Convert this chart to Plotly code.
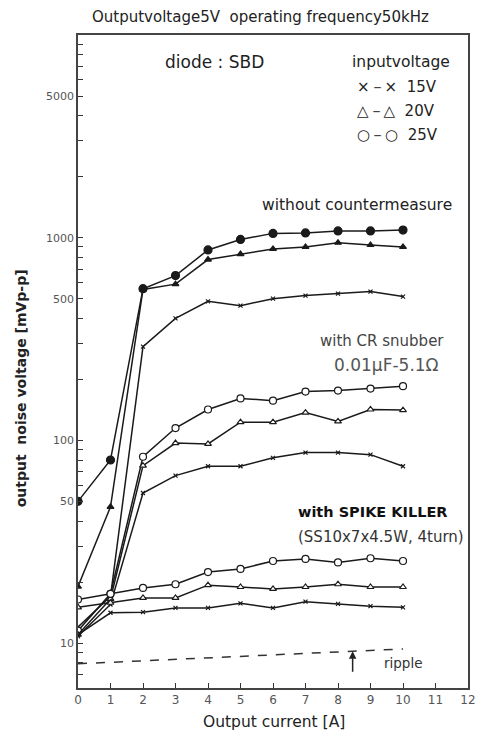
import plotly.graph_objects as go
import math

# ---- data ----
current = [0, 1, 2, 3, 4, 5, 6, 7, 8, 9, 10]

# without countermeasure
wo_25v = [50, 80, 560, 650, 870, 980, 1050, 1055, 1080, 1080, 1090]
wo_20v = [19, 47, 555, 590, 780, 830, 880, 900, 945, 920, 900]
wo_15v = [12, 17, 290, 400, 485, 462, 500, 518, 530, 542, 512]

# with CR snubber 0.01uF-5.1ohm
cr_25v = [11.5, 17.5, 83, 115, 142, 161, 157, 174, 176, 180, 185]
cr_20v = [11.0, 16.5, 75, 97, 96, 123, 123, 137, 124, 142, 141]
cr_15v = [10.8, 15.5, 55, 67, 74.5, 74.5, 82, 87, 87, 85, 74.5]

# with SPIKE KILLER
sk_25v = [16.4, 17.5, 18.7, 19.5, 22.4, 23.2, 25.4, 26.0, 25.0, 26.2, 25.4]
sk_20v = [15.0, 15.8, 16.7, 16.7, 19.3, 18.9, 18.5, 18.9, 19.5, 18.9, 18.9]
sk_15v = [11.0, 14.1, 14.2, 14.9, 14.9, 15.7, 14.9, 16.0, 15.6, 15.2, 15.0]

ripple_x = [0, 10]
ripple_y = [7.9, 9.35]

x_ticks = list(range(0, 13))
y_labeled = [10, 50, 100, 500, 1000, 5000]

# ---- figure ----
LC = "#1a1a1a"
fig = go.Figure()

def add(y, sym, size, filled, width=1.5):
    fig.add_trace(go.Scatter(
        x=current, y=y, mode="lines+markers",
        line=dict(color=LC, width=width),
        marker=dict(symbol=sym, size=size,
                    color=LC if filled else "white",
                    line=dict(color=LC, width=1.2)),
        showlegend=False, hoverinfo="skip"))

add(wo_25v, "circle", 8, True)
add(wo_20v, "triangle-up", 6, True)
add(wo_15v, "x-thin", 4, True)
add(cr_25v, "circle", 7, False)
add(cr_20v, "triangle-up", 6, False)
add(cr_15v, "x-thin", 4, False)
add(sk_25v, "circle", 7, False)
add(sk_20v, "triangle-up", 6, False)
add(sk_15v, "x-thin", 4, False)

fig.add_trace(go.Scatter(x=ripple_x, y=ripple_y, mode="lines",
                         line=dict(color="#333", width=1.5, dash="dash"),
                         showlegend=False, hoverinfo="skip"))

# y ticks: all log minors, labels only at selected values
yt, ytt = [], []
for dec in [1, 10, 100, 1000]:
    for m in range(1, 10):
        v = dec * m
        if 6 <= v <= 10000:
            yt.append(v)
            ytt.append(str(v) if v in y_labeled else "")
yt.append(10000); ytt.append("")

fig.update_layout(
    width=485, height=733,
    margin=dict(l=78, r=9, t=35, b=45),
    paper_bgcolor="white", plot_bgcolor="white",
    font=dict(family="DejaVu Sans", color="#222"),
    xaxis=dict(range=[0, 12], tickvals=x_ticks, ticks="inside", ticklen=5,
               tickcolor="#333", showgrid=False, zeroline=False,
               showline=True, linecolor="#444", linewidth=1.5, mirror=True,
               tickfont=dict(size=12, color="#555")),
    yaxis=dict(type="log", range=[math.log10(6), 4], tickvals=yt, ticktext=ytt,
               ticks="inside", ticklen=5, tickcolor="#333", showgrid=False,
               showline=True, linecolor="#444", linewidth=1.5, mirror=True,
               tickfont=dict(size=11, color="#555")),
)

def ann(text, x, y, size=13, xanchor="center", color="#222", **kw):
    fig.add_annotation(text=text, x=x, y=y, xref="paper", yref="paper",
                       showarrow=False, xanchor=xanchor, yanchor="middle",
                       font=dict(size=size, color=color), **kw)

ann("Outputvoltage5V  operating frequency50kHz", 0.467, 1.027, size=15)
ann("diode : SBD", 0.349, 0.9587, size=17)
ann("inputvoltage", 0.829, 0.9587, size=15.5)
ann("×－×  15V", 0.709, 0.9204, size=15, xanchor="left")
ann("△－△  20V", 0.709, 0.8836, size=15, xanchor="left")
ann("○－○  25V", 0.709, 0.8469, size=15, xanchor="left")
ann("without countermeasure", 0.965, 0.7397, size=15.5, xanchor="right")
ann("with CR snubber", 0.943, 0.5314, size=15, xanchor="right", color="#444")
ann("0.01μF-5.1Ω", 0.93, 0.4946, size=17, xanchor="right", color="#555")
ann("<b>with SPIKE KILLER</b>", 0.558, 0.2695, size=14.5, xanchor="left", color="#111")
ann("(SS10x7x4.5W, 4turn)", 0.558, 0.2312, size=15, xanchor="left", color="#333")
ann("ripple", 0.835, 0.038, size=13.5, color="#333")
ann("Output current [A]", 0.503, -0.052, size=15.5)
ann("<b>output  noise voltage [mVp-p]</b>", -0.146, 0.459, size=14, textangle=-90)

fig.add_annotation(x=8.45, y=math.log10(9.1), xref="x", yref="y",
                   ax=0, ay=22, showarrow=True, arrowhead=2, arrowsize=1,
                   arrowwidth=1.5, arrowcolor="#222", text="")

fig.write_html("out.html")
